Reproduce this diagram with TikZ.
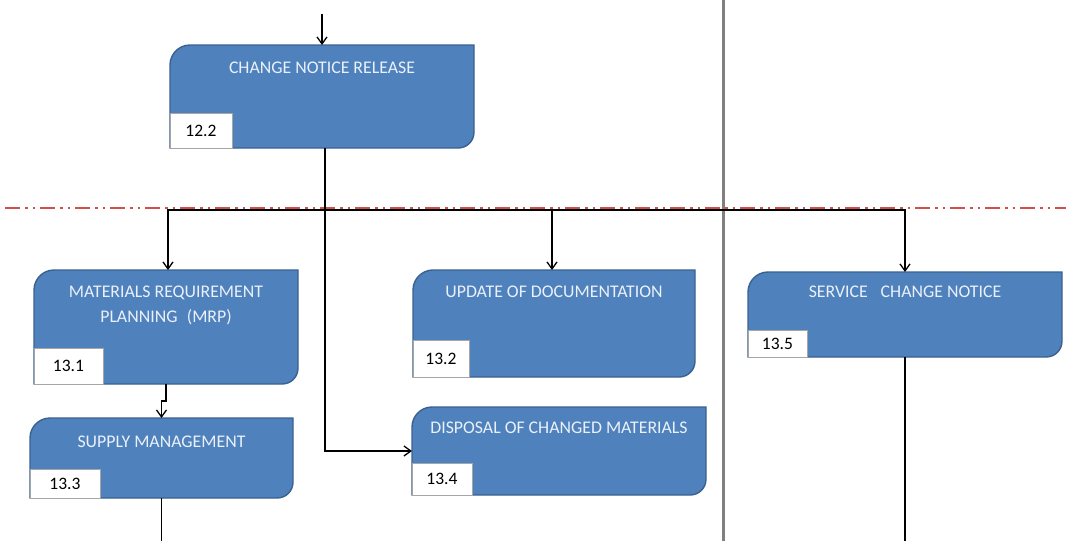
\documentclass[tikz,border=0pt]{standalone}
\usepackage{fontspec}
\setmainfont{Carlito}
\usetikzlibrary{arrows.meta,calc}

\definecolor{boxblue}{HTML}{4F81BD}
\definecolor{boxedge}{HTML}{3A6190}
\definecolor{titlecol}{HTML}{EAF1FA}
\definecolor{laneline}{HTML}{808080}
\definecolor{phaseline}{HTML}{D0504D}
\definecolor{idedge}{HTML}{A6A6A6}

\tikzset{
  boxframe/.style={rectangle, inner sep=0pt, outer sep=0pt},
  boxshape/.style={fill=boxblue, draw=boxedge, line width=1.4pt},
  idbox/.style={rectangle, fill=white, draw=idedge, line width=0.7pt,
    inner sep=0pt, outer sep=0pt, text=black, font=\fontsize{17.5}{19}\selectfont},
  titletext/.style={text=titlecol, align=center, inner sep=0pt,
    font=\fontsize{17.8}{25}\selectfont},
  flow/.style={draw=black, line width=1.3pt, -{Straight Barb[length=7pt,width=10pt,line width=1.3pt]}},
  plainflow/.style={draw=black, line width=1.3pt},
  lane/.style={draw=laneline, line width=3pt},
  phase/.style={draw=phaseline, line width=1.6pt,
    dash pattern=on 15pt off 5pt on 2.5pt off 5pt on 2.5pt off 5pt}
}

% process box: square bottom-left / top-right corners, rounded top-left / bottom-right,
% with a white number tab in the bottom-left corner
% #1 name, #2 left, #3 top, #4 width, #5 height, #6 number, #7 tab width, #8 tab height, #9 title offset
\newcommand\flowbox[9]{%
  \node[boxframe, minimum width=#4pt, minimum height=#5pt, anchor=north west] (#1) at (#2,#3) {};
  \filldraw[boxshape] (#1.south west) -- ([yshift=-20pt]#1.north west)
     .. controls ([yshift=-9pt]#1.north west) and ([xshift=9pt]#1.north west) .. ([xshift=20pt]#1.north west)
     -- (#1.north east) -- ([yshift=16pt]#1.south east)
     .. controls ([yshift=7pt]#1.south east) and ([xshift=-7pt]#1.south east) .. ([xshift=-16pt]#1.south east)
     -- cycle;
  \node[idbox, minimum width=#7pt, minimum height=#8pt, anchor=south west] (#1-id) at (#1.south west) {#6};
  \coordinate (#1-t) at ([yshift=-#9pt]#1.north);
}

\begin{document}
\begin{tikzpicture}[x=1pt, y=-1pt]
  \useasboundingbox (0,0) rectangle (1066,541);

  % lane separator and phase boundary
  \coordinate (laneTop) at (723,0);
  \coordinate (laneBot) at (723,541);
  \draw[lane] (laneTop) -- (laneBot);
  \coordinate (phaseL) at (5,208);
  \coordinate (phaseR) at (1066,208);
  \draw[phase] (phaseL) -- (phaseR);

  % process boxes
  \flowbox{crn}{170}{45}{304}{103}{12.2}{62}{35}{23}
  \flowbox{mrp}{34}{270}{264}{114}{13.1}{69}{36}{35.5}
  \flowbox{upd}{413}{270}{282}{107}{13.2}{56}{37}{22}
  \flowbox{sup}{30}{418}{263}{80}{13.3}{70}{29}{24}
  \flowbox{dsp}{412}{407}{294}{88}{13.4}{60}{32}{21}
  \flowbox{svc}{748}{272}{314}{85}{13.5}{59}{27}{20}

  \node[titletext] (crn-title) at (crn-t) {CHANGE NOTICE RELEASE};
  \node[titletext] (mrp-title) at (mrp-t) {MATERIALS REQUIREMENT\\PLANNING\hspace{0.3em} (MRP)};
  \node[titletext] (upd-title) at (upd-t) {UPDATE OF DOCUMENTATION};
  \node[titletext] (sup-title) at (sup-t) {SUPPLY MANAGEMENT};
  \node[titletext] (dsp-title) at (dsp-t) {DISPOSAL OF CHANGED MATERIALS};
  \node[titletext] (svc-title) at (svc-t) {SERVICE\hspace{0.5em} CHANGE NOTICE};

  % connectors
  \coordinate (inTop) at (322,14);
  \draw[flow] (inTop) -- (crn.north);

  \coordinate (split) at ($(crn.south)+(3,0)$);
  \coordinate (branch) at (split |- 0,210);
  \draw[flow] (split) |- (dsp.west);
  \draw[flow] (branch) -| ([xshift=2pt]mrp.north);
  \draw[flow] (branch) -| ([xshift=-2pt]upd.north);
  \draw[flow] (branch) -| (svc.north);

  \coordinate (jog) at ($(mrp.south)+(0,17)$);
  \draw[flow] (mrp.south) -- (jog) -| (sup.north);

  \coordinate (supEnd) at (sup.south |- 0,541);
  \coordinate (svcEnd) at (svc.south |- 0,541);
  \draw[plainflow] (sup.south) -- (supEnd);
  \draw[plainflow] (svc.south) -- (svcEnd);
\end{tikzpicture}
\end{document}
